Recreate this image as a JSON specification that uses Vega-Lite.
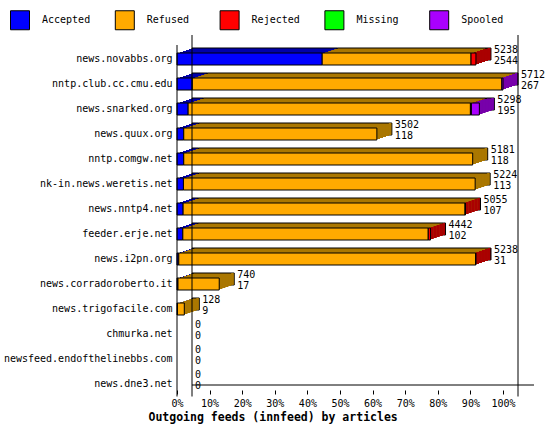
{
  "$schema": "https://vega.github.io/schema/vega-lite/v6.json",
  "autosize": {"type": "none"},
  "width": 326,
  "height": 350,
  "padding": {"left": 177, "top": 46.5, "right": 47, "bottom": 33.5},
  "background": "white",
  "datasets": {
    "segs": [
      {"server": "news.novabbs.org", "type": "Accepted", "count": 2544},
      {"server": "news.novabbs.org", "type": "Refused", "count": 2608},
      {"server": "news.novabbs.org", "type": "Rejected", "count": 86},
      {"server": "nntp.club.cc.cmu.edu", "type": "Accepted", "count": 267},
      {"server": "nntp.club.cc.cmu.edu", "type": "Refused", "count": 5425},
      {"server": "nntp.club.cc.cmu.edu", "type": "Spooled", "count": 20},
      {"server": "news.snarked.org", "type": "Accepted", "count": 195},
      {"server": "news.snarked.org", "type": "Refused", "count": 4946},
      {"server": "news.snarked.org", "type": "Rejected", "count": 17},
      {"server": "news.snarked.org", "type": "Spooled", "count": 140},
      {"server": "news.quux.org", "type": "Accepted", "count": 118},
      {"server": "news.quux.org", "type": "Refused", "count": 3384},
      {"server": "nntp.comgw.net", "type": "Accepted", "count": 118},
      {"server": "nntp.comgw.net", "type": "Refused", "count": 5063},
      {"server": "nk-in.news.weretis.net", "type": "Accepted", "count": 113},
      {"server": "nk-in.news.weretis.net", "type": "Refused", "count": 5111},
      {"server": "news.nntp4.net", "type": "Accepted", "count": 107},
      {"server": "news.nntp4.net", "type": "Refused", "count": 4940},
      {"server": "news.nntp4.net", "type": "Rejected", "count": 8},
      {"server": "feeder.erje.net", "type": "Accepted", "count": 102},
      {"server": "feeder.erje.net", "type": "Refused", "count": 4300},
      {"server": "feeder.erje.net", "type": "Rejected", "count": 40},
      {"server": "news.i2pn.org", "type": "Accepted", "count": 31},
      {"server": "news.i2pn.org", "type": "Refused", "count": 5200},
      {"server": "news.i2pn.org", "type": "Rejected", "count": 7},
      {"server": "news.corradoroberto.it", "type": "Accepted", "count": 17},
      {"server": "news.corradoroberto.it", "type": "Refused", "count": 723},
      {"server": "news.trigofacile.com", "type": "Accepted", "count": 9},
      {"server": "news.trigofacile.com", "type": "Refused", "count": 119}
    ],
    "totals": [
      {"server": "news.novabbs.org", "offered": 5238, "accepted": 2544, "last": "Rejected"},
      {"server": "nntp.club.cc.cmu.edu", "offered": 5712, "accepted": 267, "last": "Spooled"},
      {"server": "news.snarked.org", "offered": 5298, "accepted": 195, "last": "Spooled"},
      {"server": "news.quux.org", "offered": 3502, "accepted": 118, "last": "Refused"},
      {"server": "nntp.comgw.net", "offered": 5181, "accepted": 118, "last": "Refused"},
      {"server": "nk-in.news.weretis.net", "offered": 5224, "accepted": 113, "last": "Refused"},
      {"server": "news.nntp4.net", "offered": 5055, "accepted": 107, "last": "Rejected"},
      {"server": "feeder.erje.net", "offered": 4442, "accepted": 102, "last": "Rejected"},
      {"server": "news.i2pn.org", "offered": 5238, "accepted": 31, "last": "Rejected"},
      {"server": "news.corradoroberto.it", "offered": 740, "accepted": 17, "last": "Refused"},
      {"server": "news.trigofacile.com", "offered": 128, "accepted": 9, "last": "Refused"},
      {"server": "chmurka.net", "offered": 0, "accepted": 0, "last": "Refused"},
      {"server": "newsfeed.endofthelinebbs.com", "offered": 0, "accepted": 0, "last": "Refused"},
      {"server": "news.dne3.net", "offered": 0, "accepted": 0, "last": "Refused"}
    ],
    "walls": [
      {"pos": 0},
      {"pos": 5712}
    ],
    "front": [
      {"pos": 0}
    ],
    "floor": [
      {"from": 0, "to": 6255, "server": "news.dne3.net"}
    ]
  },
  "data": {"name": "segs"},
  "transform": [
    {"calculate": "indexof(['Accepted','Refused','Rejected','Missing','Spooled'], datum.type)", "as": "o"}
  ],
  "resolve": {"scale": {"color": "independent"}, "legend": {"color": "independent"}},
  "layer": [
    {
      "mark": {"type": "bar", "size": 12, "xOffset": 15, "yOffset": -5, "stroke": "black", "strokeWidth": 1},
      "encoding": {
        "y": {"field": "server", "type": "nominal", "title": null,
          "scale": {"domain": ["news.novabbs.org", "nntp.club.cc.cmu.edu", "news.snarked.org", "news.quux.org", "nntp.comgw.net", "nk-in.news.weretis.net", "news.nntp4.net", "feeder.erje.net", "news.i2pn.org", "news.corradoroberto.it", "news.trigofacile.com", "chmurka.net", "newsfeed.endofthelinebbs.com", "news.dne3.net"], "paddingInner": 0, "paddingOuter": 0}},
        "x": {"field": "count", "type": "quantitative", "stack": "zero", "title": "Outgoing feeds (innfeed) by articles",
          "scale": {"domain": [0, 5712], "nice": false},
          "axis": {"values": [0, 571.2, 1142.4, 1713.6, 2284.8, 2856, 3427.2, 3998.4, 4569.6, 5140.8, 5712], "labelOverlap": false, "labelFlush": false, "labelSeparation": 0, "labelBound": false}},
        "color": {"field": "type", "type": "nominal", "legend": null,
          "scale": {"domain": ["Accepted", "Refused", "Rejected", "Missing", "Spooled"], "range": ["#0000aa", "#aa7700", "#aa0000", "#00aa00", "#7700aa"]}},
        "order": {"field": "o", "type": "quantitative"}
      }
    },
    {
      "mark": {"type": "bar", "size": 12, "xOffset": 12, "yOffset": -4},
      "encoding": {
        "y": {"field": "server", "type": "nominal", "title": null},
        "x": {"field": "count", "type": "quantitative", "stack": "zero", "title": "Outgoing feeds (innfeed) by articles",
          "axis": {"values": [0, 571.2, 1142.4, 1713.6, 2284.8, 2856, 3427.2, 3998.4, 4569.6, 5140.8, 5712], "labelOverlap": false, "labelFlush": false, "labelSeparation": 0, "labelBound": false}},
        "color": {"field": "type", "type": "nominal", "legend": null,
          "scale": {"domain": ["Accepted", "Refused", "Rejected", "Missing", "Spooled"], "range": ["#0000aa", "#aa7700", "#aa0000", "#00aa00", "#7700aa"]}},
        "order": {"field": "o", "type": "quantitative"}
      }
    },
    {
      "mark": {"type": "bar", "size": 12, "xOffset": 9, "yOffset": -3},
      "encoding": {
        "y": {"field": "server", "type": "nominal", "title": null},
        "x": {"field": "count", "type": "quantitative", "stack": "zero", "title": "Outgoing feeds (innfeed) by articles",
          "axis": {"values": [0, 571.2, 1142.4, 1713.6, 2284.8, 2856, 3427.2, 3998.4, 4569.6, 5140.8, 5712], "labelOverlap": false, "labelFlush": false, "labelSeparation": 0, "labelBound": false}},
        "color": {"field": "type", "type": "nominal", "legend": null,
          "scale": {"domain": ["Accepted", "Refused", "Rejected", "Missing", "Spooled"], "range": ["#0000aa", "#aa7700", "#aa0000", "#00aa00", "#7700aa"]}},
        "order": {"field": "o", "type": "quantitative"}
      }
    },
    {
      "mark": {"type": "bar", "size": 12, "xOffset": 6, "yOffset": -2},
      "encoding": {
        "y": {"field": "server", "type": "nominal", "title": null},
        "x": {"field": "count", "type": "quantitative", "stack": "zero", "title": "Outgoing feeds (innfeed) by articles",
          "axis": {"values": [0, 571.2, 1142.4, 1713.6, 2284.8, 2856, 3427.2, 3998.4, 4569.6, 5140.8, 5712], "labelOverlap": false, "labelFlush": false, "labelSeparation": 0, "labelBound": false}},
        "color": {"field": "type", "type": "nominal", "legend": null,
          "scale": {"domain": ["Accepted", "Refused", "Rejected", "Missing", "Spooled"], "range": ["#0000aa", "#aa7700", "#aa0000", "#00aa00", "#7700aa"]}},
        "order": {"field": "o", "type": "quantitative"}
      }
    },
    {
      "mark": {"type": "bar", "size": 12, "xOffset": 3, "yOffset": -1},
      "encoding": {
        "y": {"field": "server", "type": "nominal", "title": null},
        "x": {"field": "count", "type": "quantitative", "stack": "zero", "title": "Outgoing feeds (innfeed) by articles",
          "axis": {"values": [0, 571.2, 1142.4, 1713.6, 2284.8, 2856, 3427.2, 3998.4, 4569.6, 5140.8, 5712], "labelOverlap": false, "labelFlush": false, "labelSeparation": 0, "labelBound": false}},
        "color": {"field": "type", "type": "nominal", "legend": null,
          "scale": {"domain": ["Accepted", "Refused", "Rejected", "Missing", "Spooled"], "range": ["#0000aa", "#aa7700", "#aa0000", "#00aa00", "#7700aa"]}},
        "order": {"field": "o", "type": "quantitative"}
      }
    },
    {
      "data": {"name": "totals"},
      "transform": [{"filter": "datum.offered > 0"}],
      "mark": {"type": "bar", "size": 12, "xOffset": 0, "x2Offset": 3, "yOffset": -1},
      "encoding": {
        "y": {"field": "server", "type": "nominal", "title": null},
        "x": {"field": "offered", "type": "quantitative", "title": "Outgoing feeds (innfeed) by articles",
          "axis": {"values": [0, 571.2, 1142.4, 1713.6, 2284.8, 2856, 3427.2, 3998.4, 4569.6, 5140.8, 5712], "labelOverlap": false, "labelFlush": false, "labelSeparation": 0, "labelBound": false}},
        "x2": {"field": "offered"},
        "color": {"field": "last", "type": "nominal", "legend": null,
          "scale": {"domain": ["Accepted", "Refused", "Rejected", "Missing", "Spooled"], "range": ["#0000aa", "#aa7700", "#aa0000", "#00aa00", "#7700aa"]}}
      }
    },
    {
      "data": {"name": "totals"},
      "transform": [{"filter": "datum.offered > 0"}],
      "mark": {"type": "bar", "size": 12, "xOffset": 3, "x2Offset": 6, "yOffset": -2},
      "encoding": {
        "y": {"field": "server", "type": "nominal", "title": null},
        "x": {"field": "offered", "type": "quantitative", "title": "Outgoing feeds (innfeed) by articles",
          "axis": {"values": [0, 571.2, 1142.4, 1713.6, 2284.8, 2856, 3427.2, 3998.4, 4569.6, 5140.8, 5712], "labelOverlap": false, "labelFlush": false, "labelSeparation": 0, "labelBound": false}},
        "x2": {"field": "offered"},
        "color": {"field": "last", "type": "nominal", "legend": null,
          "scale": {"domain": ["Accepted", "Refused", "Rejected", "Missing", "Spooled"], "range": ["#0000aa", "#aa7700", "#aa0000", "#00aa00", "#7700aa"]}}
      }
    },
    {
      "data": {"name": "totals"},
      "transform": [{"filter": "datum.offered > 0"}],
      "mark": {"type": "bar", "size": 12, "xOffset": 6, "x2Offset": 9, "yOffset": -3},
      "encoding": {
        "y": {"field": "server", "type": "nominal", "title": null},
        "x": {"field": "offered", "type": "quantitative", "title": "Outgoing feeds (innfeed) by articles",
          "axis": {"values": [0, 571.2, 1142.4, 1713.6, 2284.8, 2856, 3427.2, 3998.4, 4569.6, 5140.8, 5712], "labelOverlap": false, "labelFlush": false, "labelSeparation": 0, "labelBound": false}},
        "x2": {"field": "offered"},
        "color": {"field": "last", "type": "nominal", "legend": null,
          "scale": {"domain": ["Accepted", "Refused", "Rejected", "Missing", "Spooled"], "range": ["#0000aa", "#aa7700", "#aa0000", "#00aa00", "#7700aa"]}}
      }
    },
    {
      "data": {"name": "totals"},
      "transform": [{"filter": "datum.offered > 0"}],
      "mark": {"type": "bar", "size": 12, "xOffset": 9, "x2Offset": 12, "yOffset": -4},
      "encoding": {
        "y": {"field": "server", "type": "nominal", "title": null},
        "x": {"field": "offered", "type": "quantitative", "title": "Outgoing feeds (innfeed) by articles",
          "axis": {"values": [0, 571.2, 1142.4, 1713.6, 2284.8, 2856, 3427.2, 3998.4, 4569.6, 5140.8, 5712], "labelOverlap": false, "labelFlush": false, "labelSeparation": 0, "labelBound": false}},
        "x2": {"field": "offered"},
        "color": {"field": "last", "type": "nominal", "legend": null,
          "scale": {"domain": ["Accepted", "Refused", "Rejected", "Missing", "Spooled"], "range": ["#0000aa", "#aa7700", "#aa0000", "#00aa00", "#7700aa"]}}
      }
    },
    {
      "data": {"name": "totals"},
      "transform": [{"filter": "datum.offered > 0"}],
      "mark": {"type": "bar", "size": 12, "xOffset": 12, "x2Offset": 14.4, "yOffset": -5},
      "encoding": {
        "y": {"field": "server", "type": "nominal", "title": null},
        "x": {"field": "offered", "type": "quantitative", "title": "Outgoing feeds (innfeed) by articles",
          "axis": {"values": [0, 571.2, 1142.4, 1713.6, 2284.8, 2856, 3427.2, 3998.4, 4569.6, 5140.8, 5712], "labelOverlap": false, "labelFlush": false, "labelSeparation": 0, "labelBound": false}},
        "x2": {"field": "offered"},
        "color": {"field": "last", "type": "nominal", "legend": null,
          "scale": {"domain": ["Accepted", "Refused", "Rejected", "Missing", "Spooled"], "range": ["#0000aa", "#aa7700", "#aa0000", "#00aa00", "#7700aa"]}}
      }
    },
    {
      "mark": {"type": "bar", "size": 12, "stroke": "black", "strokeWidth": 1, "opacity": 1},
      "encoding": {
        "y": {"field": "server", "type": "nominal", "title": null},
        "x": {"field": "count", "type": "quantitative", "stack": "zero", "title": "Outgoing feeds (innfeed) by articles",
          "axis": {"values": [0, 571.2, 1142.4, 1713.6, 2284.8, 2856, 3427.2, 3998.4, 4569.6, 5140.8, 5712], "labelOverlap": false, "labelFlush": false, "labelSeparation": 0, "labelBound": false}},
        "color": {"field": "type", "type": "nominal",
          "scale": {"domain": ["Accepted", "Refused", "Rejected", "Missing", "Spooled"], "range": ["#0000ff", "#ffaa00", "#ff0000", "#00ff00", "#aa00ff"]},
          "legend": {"orient": "none", "legendX": -167, "legendY": -36.5, "direction": "horizontal", "columns": 5, "gridAlign": "all", "title": null,
            "symbolType": "square", "symbolSize": 361, "symbolStrokeColor": "black", "symbolStrokeWidth": 1, "symbolOpacity": 1,
            "labelFont": "DejaVu Sans Mono", "labelFontSize": 10, "labelColor": "black", "labelOffset": 12, "columnPadding": 21.8, "padding": 0}},
        "order": {"field": "o", "type": "quantitative"}
      }
    },
    {
      "data": {"name": "walls"},
      "mark": {"type": "rule", "color": "black", "strokeWidth": 1, "xOffset": 15, "yOffset": -11.5, "y2Offset": -11.5},
      "encoding": {
        "x": {"field": "pos", "type": "quantitative", "title": "Outgoing feeds (innfeed) by articles",
          "axis": {"values": [0, 571.2, 1142.4, 1713.6, 2284.8, 2856, 3427.2, 3998.4, 4569.6, 5140.8, 5712], "labelOverlap": false, "labelFlush": false, "labelSeparation": 0, "labelBound": false}}
      }
    },
    {
      "data": {"name": "front"},
      "mark": {"type": "rule", "color": "black", "strokeWidth": 1, "yOffset": -1.5, "y2Offset": -7},
      "encoding": {
        "x": {"field": "pos", "type": "quantitative", "title": "Outgoing feeds (innfeed) by articles",
          "axis": {"values": [0, 571.2, 1142.4, 1713.6, 2284.8, 2856, 3427.2, 3998.4, 4569.6, 5140.8, 5712], "labelOverlap": false, "labelFlush": false, "labelSeparation": 0, "labelBound": false}}
      }
    },
    {
      "data": {"name": "floor"},
      "mark": {"type": "rule", "color": "black", "strokeWidth": 1, "xOffset": 15, "yOffset": -11.5},
      "encoding": {
        "x": {"field": "from", "type": "quantitative", "title": "Outgoing feeds (innfeed) by articles",
          "axis": {"values": [0, 571.2, 1142.4, 1713.6, 2284.8, 2856, 3427.2, 3998.4, 4569.6, 5140.8, 5712], "labelOverlap": false, "labelFlush": false, "labelSeparation": 0, "labelBound": false}},
        "x2": {"field": "to"},
        "y": {"field": "server", "type": "nominal", "title": null, "bandPosition": 1}
      }
    },
    {
      "data": {"name": "totals"},
      "mark": {"type": "text", "align": "left", "baseline": "middle", "dx": 18, "dy": -9, "font": "DejaVu Sans Mono", "fontSize": 10, "color": "black"},
      "encoding": {
        "y": {"field": "server", "type": "nominal", "title": null},
        "x": {"field": "offered", "type": "quantitative", "title": "Outgoing feeds (innfeed) by articles",
          "axis": {"values": [0, 571.2, 1142.4, 1713.6, 2284.8, 2856, 3427.2, 3998.4, 4569.6, 5140.8, 5712], "labelOverlap": false, "labelFlush": false, "labelSeparation": 0, "labelBound": false}},
        "text": {"field": "offered", "type": "quantitative", "format": "d"}
      }
    },
    {
      "data": {"name": "totals"},
      "mark": {"type": "text", "align": "left", "baseline": "middle", "dx": 18, "dy": 2, "font": "DejaVu Sans Mono", "fontSize": 10, "color": "black"},
      "encoding": {
        "y": {"field": "server", "type": "nominal", "title": null},
        "x": {"field": "offered", "type": "quantitative", "title": "Outgoing feeds (innfeed) by articles",
          "axis": {"values": [0, 571.2, 1142.4, 1713.6, 2284.8, 2856, 3427.2, 3998.4, 4569.6, 5140.8, 5712], "labelOverlap": false, "labelFlush": false, "labelSeparation": 0, "labelBound": false}},
        "text": {"field": "accepted", "type": "quantitative", "format": "d"}
      }
    }
  ],
  "config": {
    "view": {"stroke": null},
    "font": "DejaVu Sans Mono",
    "axisY": {"ticks": false, "labelPadding": 5, "domain": false, "labelFont": "DejaVu Sans Mono", "labelFontSize": 10, "labelColor": "black", "grid": false},
    "axisX": {
      "labelExpr": "format(datum.value / 5712, '.0%')",
      "labelOverlap": false, "labelFlush": false,
      "domain": false, "grid": false, "tickColor": "black", "tickSize": 4, "offset": -6.5,
      "labelFont": "DejaVu Sans Mono", "labelFontSize": 10, "labelColor": "black", "labelPadding": 4,
      "titleFont": "DejaVu Sans Mono", "titleFontSize": 11.5, "titleFontWeight": "bold", "titleColor": "black",
      "titleAnchor": "start", "titleAlign": "left", "titleX": -29, "titleY": 27, "titleBaseline": "middle"
    }
  }
}
